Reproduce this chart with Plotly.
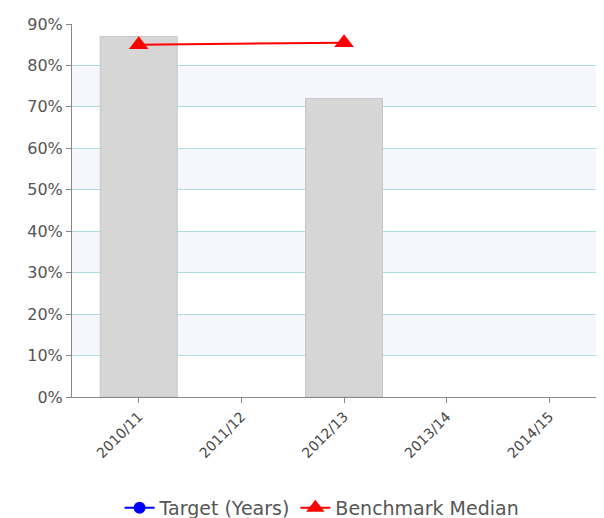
import plotly.graph_objects as go

# donnees
years = ["2010/11", "2011/12", "2012/13", "2013/14", "2014/15"]
actual = [87, None, 72, None, None]
target = [None, None, None, None, None]
benchmark = [85, None, 85.5, None, None]
y_ticks = [0, 10, 20, 30, 40, 50, 60, 70, 80, 90]
y_labels = [str(v) + "%" for v in y_ticks]

fig = go.Figure()

# bandes de fond alternees
for i in range(len(y_ticks) - 1):
    if i % 2 == 1:
        fig.add_shape(type="rect", xref="paper", yref="y",
                      x0=0, x1=1, y0=y_ticks[i], y1=y_ticks[i + 1],
                      fillcolor="#f5f7fd", line_width=0, layer="below")

fig.add_trace(go.Bar(
    x=years, y=actual, width=0.75, showlegend=False,
    marker=dict(color="#d6d6d6", line=dict(color="#c6c6c6", width=1)),
))

fig.add_trace(go.Scatter(
    x=years, y=target, name="Target (Years)", mode="lines+markers",
    line=dict(color="blue", width=2), marker=dict(symbol="circle", size=12, color="blue"),
))

fig.add_trace(go.Scatter(
    x=years, y=benchmark, name="Benchmark Median", mode="lines+markers",
    connectgaps=True,
    line=dict(color="red", width=2), marker=dict(symbol="triangle-up", size=17, color="red"),
))

fig.update_layout(
    width=604, height=518,
    margin=dict(l=64, r=0, t=16, b=129),
    plot_bgcolor="white", paper_bgcolor="white",
    font=dict(family="DejaVu Sans", color="#555555"),
    legend=dict(orientation="h", xref="container", yref="container",
                x=0.52, xanchor="center", y=0.035, yanchor="middle",
                font=dict(size=19), itemwidth=30),
    xaxis=dict(
        range=[-0.65, 4.61], showline=True, linecolor="#888888", linewidth=1,
        ticks="outside", ticklen=5, tickcolor="#888888", tickangle=-45,
        tickfont=dict(size=14, color="#444444"), showgrid=False, automargin=False,
    ),
    yaxis=dict(
        range=[0, 90], tickvals=y_ticks, ticktext=y_labels,
        showline=True, linecolor="#888888", linewidth=1,
        ticks="outside", ticklen=5, tickcolor="#888888",
        tickfont=dict(size=16), gridcolor="#a9dde2", gridwidth=1, zeroline=False,
        automargin=False,
    ),
)

fig.write_html("out.html")
